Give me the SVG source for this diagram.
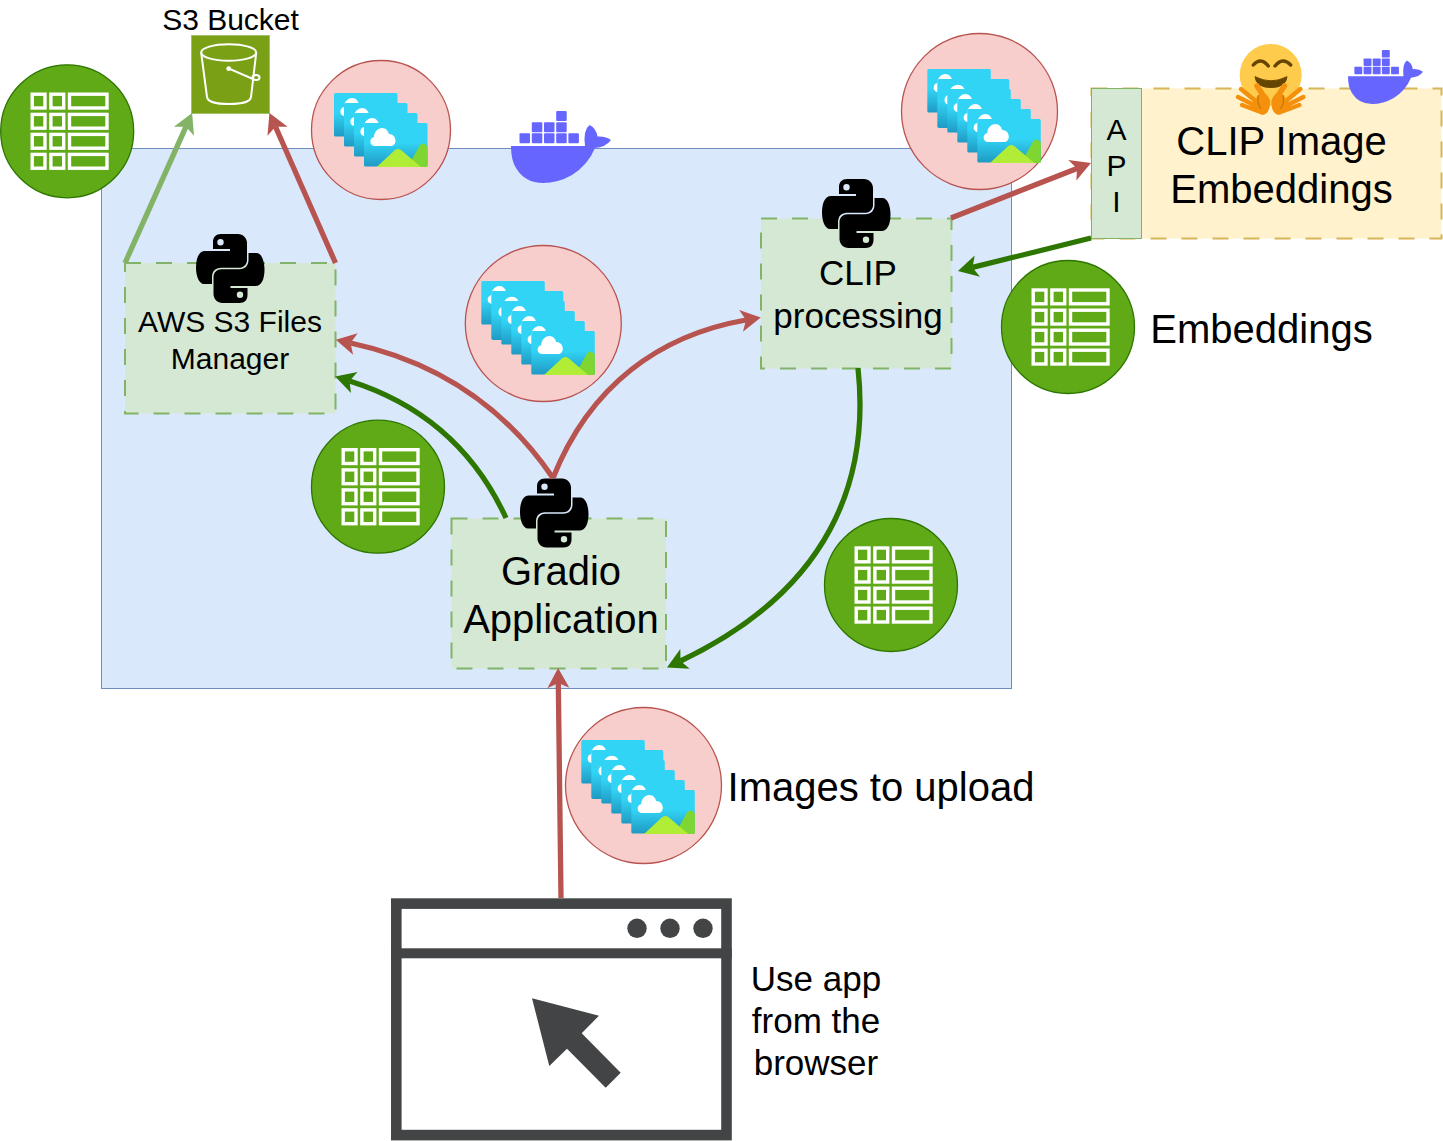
<svg xmlns="http://www.w3.org/2000/svg" xmlns:xlink="http://www.w3.org/1999/xlink" width="1443" height="1141" viewBox="0 0 1443 1141">
<style>
text{font-family:"Liberation Sans",Arial,sans-serif;fill:#000;text-anchor:middle}
.s30{font-size:30px}.s35{font-size:35px}.s40{font-size:40px}
.proc{fill:#d5e8d4;stroke:#82b366;stroke-width:2;stroke-dasharray:16 15}
.tc{fill:#60a917;stroke:#2d7600;stroke-width:1.3}
.pc{fill:#f8cecc;stroke:#b85450;stroke-width:1.3}
.conn{fill:none;stroke-width:5.300}
.r{stroke:#b85450}.g{stroke:#2d7600}.lg{stroke:#82b366}
.tb rect{fill:none;stroke:#fff;stroke-width:3.400}
.dk{fill:#6666ff}
.ink{fill:#434445}
</style>
<defs>
<marker id="ar" markerUnits="userSpaceOnUse" markerWidth="24" markerHeight="26" viewBox="0 0 24 26" refX="7" refY="13" orient="auto"><path d="M22 13L2 2L7 13L2 24Z" fill="#b85450"/></marker>
<marker id="ag" markerUnits="userSpaceOnUse" markerWidth="24" markerHeight="26" viewBox="0 0 24 26" refX="7" refY="13" orient="auto"><path d="M22 13L2 2L7 13L2 24Z" fill="#2d7600"/></marker>
<marker id="al" markerUnits="userSpaceOnUse" markerWidth="24" markerHeight="26" viewBox="0 0 24 26" refX="7" refY="13" orient="auto"><path d="M22 13L2 2L7 13L2 24Z" fill="#82b366"/></marker>
<linearGradient id="cg" x1="0" y1="0" x2="0" y2="1"><stop offset="0.45" stop-color="#32d4f5"/><stop offset="1" stop-color="#1f9ac4"/></linearGradient>
<g id="card"><rect width="63.500" height="43.500" rx="1.600" fill="url(#cg)"/><path d="M11 23C5 23 5 15 10 14C10 8 15 5 18 5C22 5 24 8 25 11C29 11 31.500 14 31.500 18C31.500 21 29 23 27 23Z" fill="#fff"/></g>
<g id="lastcard"><use xlink:href="#card"/>
<path d="M43.700 44L56 22Q59 19 62 22L63.500 23.500V42.500Q63.500 44 62 44Z" fill="#7fd632"/>
<path d="M12.700 44L31 27Q34 25 37 27L57 44Z" fill="#b1ec36"/></g>
<g id="stack">
<use xlink:href="#card"/>
<use xlink:href="#card" transform="translate(10 10) scale(1.134 1.127)"/>
<use xlink:href="#card" x="20" y="20"/>
<use xlink:href="#card" x="30" y="30"/>
<use xlink:href="#card" x="40" y="40"/>
<use xlink:href="#lastcard" x="50" y="50"/>
</g>
<g id="stack-small">
<use xlink:href="#card"/>
<use xlink:href="#card" x="10" y="10"/>
<use xlink:href="#card" x="20" y="20"/>
<use xlink:href="#lastcard" x="30" y="30"/>
</g>
<g id="table" class="tb">
<rect x="1.700" y="1.700" width="12.800" height="13.800"/><rect x="20.400" y="1.700" width="12.800" height="13.800"/><rect x="39" y="1.700" width="37.500" height="13.800"/>
<rect x="1.700" y="21.900" width="12.800" height="13.800"/><rect x="20.400" y="21.900" width="12.800" height="13.800"/><rect x="39" y="21.900" width="37.500" height="13.800"/>
<rect x="1.700" y="41.900" width="12.800" height="13.800"/><rect x="20.400" y="41.900" width="12.800" height="13.800"/><rect x="39" y="41.900" width="37.500" height="13.800"/>
<rect x="1.700" y="61.900" width="12.800" height="13.800"/><rect x="20.400" y="61.900" width="12.800" height="13.800"/><rect x="39" y="61.900" width="37.500" height="13.800"/>
</g>
<path id="snake" fill-rule="evenodd" d="M25 0H42C47 0 51 4 51 9V26C51 30.500 47.500 33.800 43 33.800H25C19.500 33.800 16 37.500 16 43V50H8C3 50 0 42 0 33.500C0 24 3 17 9 17H34V15H17V8C17 3 20 0 25 0ZM24.500 5A3.200 3.200 0 1 0 24.500 11.400A3.200 3.200 0 1 0 24.500 5Z"/>
<g id="python">
<use xlink:href="#snake"/>
<use xlink:href="#snake" transform="rotate(180 34.250 34.500)"/>
</g>
<g id="docker" class="dk">
<rect x="519.500" y="133.300" width="10.500" height="10" rx="1"/><rect x="531.800" y="133.300" width="10.500" height="10" rx="1"/><rect x="544" y="133.300" width="10.500" height="10" rx="1"/><rect x="556.200" y="133.300" width="10.500" height="10" rx="1"/><rect x="568.400" y="133.300" width="10.500" height="10" rx="1"/>
<rect x="531.800" y="122.200" width="10.500" height="10" rx="1"/><rect x="544" y="122.200" width="10.500" height="10" rx="1"/><rect x="556.200" y="122.200" width="10.500" height="10" rx="1"/>
<rect x="556.200" y="111" width="10.500" height="10" rx="1"/>
<path d="M511 146H585Q583 130 589.500 125Q596 128 597.500 136.500Q606 136 611 140Q606 147 595 148Q588 165 572 175Q558 183 543 183Q525 183 516 168Q511 160 511 146Z"/>
</g>
<g id="hand">
<path d="M1241 89L1258 103M1238 97L1258 107M1242 105L1258 111" fill="none" stroke="#f4900c" stroke-width="4.400" stroke-linecap="round"/>
<path d="M1257 86L1267 101" fill="none" stroke="#f4900c" stroke-width="5.500" stroke-linecap="round"/>
<ellipse cx="1262.500" cy="104" rx="7.500" ry="11" fill="#f4900c"/>
<path d="M1258.500 95Q1256.500 103 1261 109" fill="none" stroke="#b86a08" stroke-width="0.900"/>
</g>
</defs>

<g id="container"><rect x="101.500" y="148.500" width="910" height="540" fill="#dae8fc" stroke="#6c8ebf" stroke-width="1"/></g>
<g id="docker-main"><use xlink:href="#docker"/></g>

<g id="s3-bucket">
<text class="s30" x="230.500" y="30">S3 Bucket</text>
<rect x="191.500" y="35.500" width="78" height="78" fill="#7aa116" stroke="#a4c16a" stroke-width="1"/>
<g fill="none" stroke="#fff" stroke-width="2">
<ellipse cx="228.700" cy="52.500" rx="27.500" ry="8.300"/>
<path d="M201.200 53L207 97Q208 104 229 104Q250 104 251 97L256.200 53"/>
<path d="M229 68.700L253 79"/>
<ellipse cx="256" cy="77.500" rx="3.500" ry="2.500"/>
</g>
<circle cx="228.700" cy="68.700" r="2.400" fill="#fff"/>
</g>

<g id="aws-files-manager">
<rect class="proc" x="125" y="263" width="210.500" height="150.500"/>
<text class="s30" x="230" y="332">AWS S3 Files</text>
<text class="s30" x="230" y="369">Manager</text>
<use xlink:href="#python" transform="translate(196 234)"/>
</g>
<g id="clip-processing">
<rect class="proc" x="761" y="218.500" width="190.500" height="150"/>
<text class="s35" x="858" y="285">CLIP</text>
<text class="s35" x="858" y="328">processing</text>
<use xlink:href="#python" transform="translate(822 179)"/>
</g>
<g id="gradio">
<rect class="proc" x="451.500" y="518.500" width="214.500" height="150"/>
<text class="s40" x="561" y="585">Gradio</text>
<text class="s40" x="561" y="633">Application</text>
<use xlink:href="#python" transform="translate(520 478.500)"/>
</g>

<g id="clip-embeddings">
<rect x="1091.500" y="88.500" width="350" height="150" fill="#fff2cc" stroke="#d6b656" stroke-width="2" stroke-dasharray="16 15"/>
<text class="s40" x="1281.500" y="155">CLIP Image</text>
<text class="s40" x="1281.500" y="203">Embeddings</text>
</g>
<g id="api">
<rect x="1091.500" y="88.500" width="50" height="150" fill="#d5e8d4" stroke="#82b366" stroke-width="1"/>
<text class="s30" x="1116.500" y="140">A</text>
<text class="s30" x="1116.500" y="176">P</text>
<text class="s30" x="1116.500" y="212">I</text>
</g>
<g id="hugging-face">
<circle cx="1270.700" cy="75" r="31" fill="#ffcb4c"/>
<path d="M1253.300 65Q1260.700 56.500 1268.300 66M1275 66Q1282.700 56.500 1290.700 65" fill="none" stroke="#664500" stroke-width="3.400" stroke-linecap="round"/>
<path d="M1255 76.700Q1271 85 1287 76.700Q1286 87.500 1271 87.500Q1256 87.500 1255 76.700Z" fill="#664500" stroke="#664500" stroke-width="1" stroke-linejoin="round"/>
<use xlink:href="#hand"/>
<use xlink:href="#hand" transform="matrix(-1 0 0 1 2541.400 0)"/>
</g>
<g id="docker-clip"><use xlink:href="#docker" transform="translate(964.750 -33.250) scale(.75)"/></g>

<g id="connectors">
<path class="conn lg" d="M125 263L186 126.700" marker-end="url(#al)"/>
<path class="conn r" d="M335.500 263L275.500 126.700" marker-end="url(#ar)"/>
<path class="conn r" d="M553 478C500 400 430 360 350.500 343" marker-end="url(#ar)"/>
<path class="conn r" d="M553 478C590 385 660 335 746 320" marker-end="url(#ar)"/>
<path class="conn g" d="M506 518C470 440 410 400 349.500 381" marker-end="url(#ag)"/>
<path class="conn g" d="M858 368C870 480 830 590 680.500 661" marker-end="url(#ag)"/>
<path class="conn r" d="M951 218L1077 168.500" marker-end="url(#ar)"/>
<path class="conn g" d="M1091 238L972.500 267.400" marker-end="url(#ag)"/>
<path class="conn r" d="M561 898L558.300 683" marker-end="url(#ar)"/>
</g>

<g id="table-left"><circle class="tc" cx="67.200" cy="131.300" r="66.500"/><use xlink:href="#table" x="30.500" y="92.500"/></g>
<g id="table-aws"><circle class="tc" cx="378" cy="486.700" r="66.500"/><use xlink:href="#table" x="341.500" y="448"/></g>
<g id="table-gradio"><circle class="tc" cx="891" cy="585" r="66.500"/><use xlink:href="#table" x="854.500" y="546.300"/></g>
<g id="table-embeddings"><circle class="tc" cx="1068" cy="327" r="66.500"/><use xlink:href="#table" x="1031.500" y="288.300"/>
<text class="s40" x="1261.500" y="343">Embeddings</text></g>

<g id="images-s3"><circle class="pc" cx="381" cy="130" r="69.500"/><use xlink:href="#stack-small" transform="translate(334 93)"/></g>
<g id="images-middle"><circle class="pc" cx="543.300" cy="323.500" r="78"/><use xlink:href="#stack" transform="translate(481.300 281)"/></g>
<g id="images-clip"><circle class="pc" cx="979.500" cy="111.500" r="78"/><use xlink:href="#stack" transform="translate(927.300 69)"/></g>
<g id="images-upload"><circle class="pc" cx="643.500" cy="785.500" r="78"/><use xlink:href="#stack" transform="translate(581.300 740)"/>
<text class="s40" x="881" y="801">Images to upload</text></g>

<g id="browser">
<rect x="396.300" y="903.600" width="330.200" height="231.500" fill="#fff" stroke="#434445" stroke-width="10.600"/>
<rect class="ink" x="391" y="948.300" width="340.700" height="10"/>
<circle class="ink" cx="637" cy="928.300" r="9.700"/><circle class="ink" cx="670" cy="928.300" r="9.700"/><circle class="ink" cx="703" cy="928.300" r="9.700"/>
<path class="ink" d="M532 998.300L599 1015.700L581.700 1033.300L620.700 1072.700L605.700 1087.700L567 1048.700L549.300 1066Z"/>
<text class="s35" x="816" y="991">Use app</text>
<text class="s35" x="816" y="1033">from the</text>
<text class="s35" x="816" y="1075">browser</text>
</g>
</svg>
